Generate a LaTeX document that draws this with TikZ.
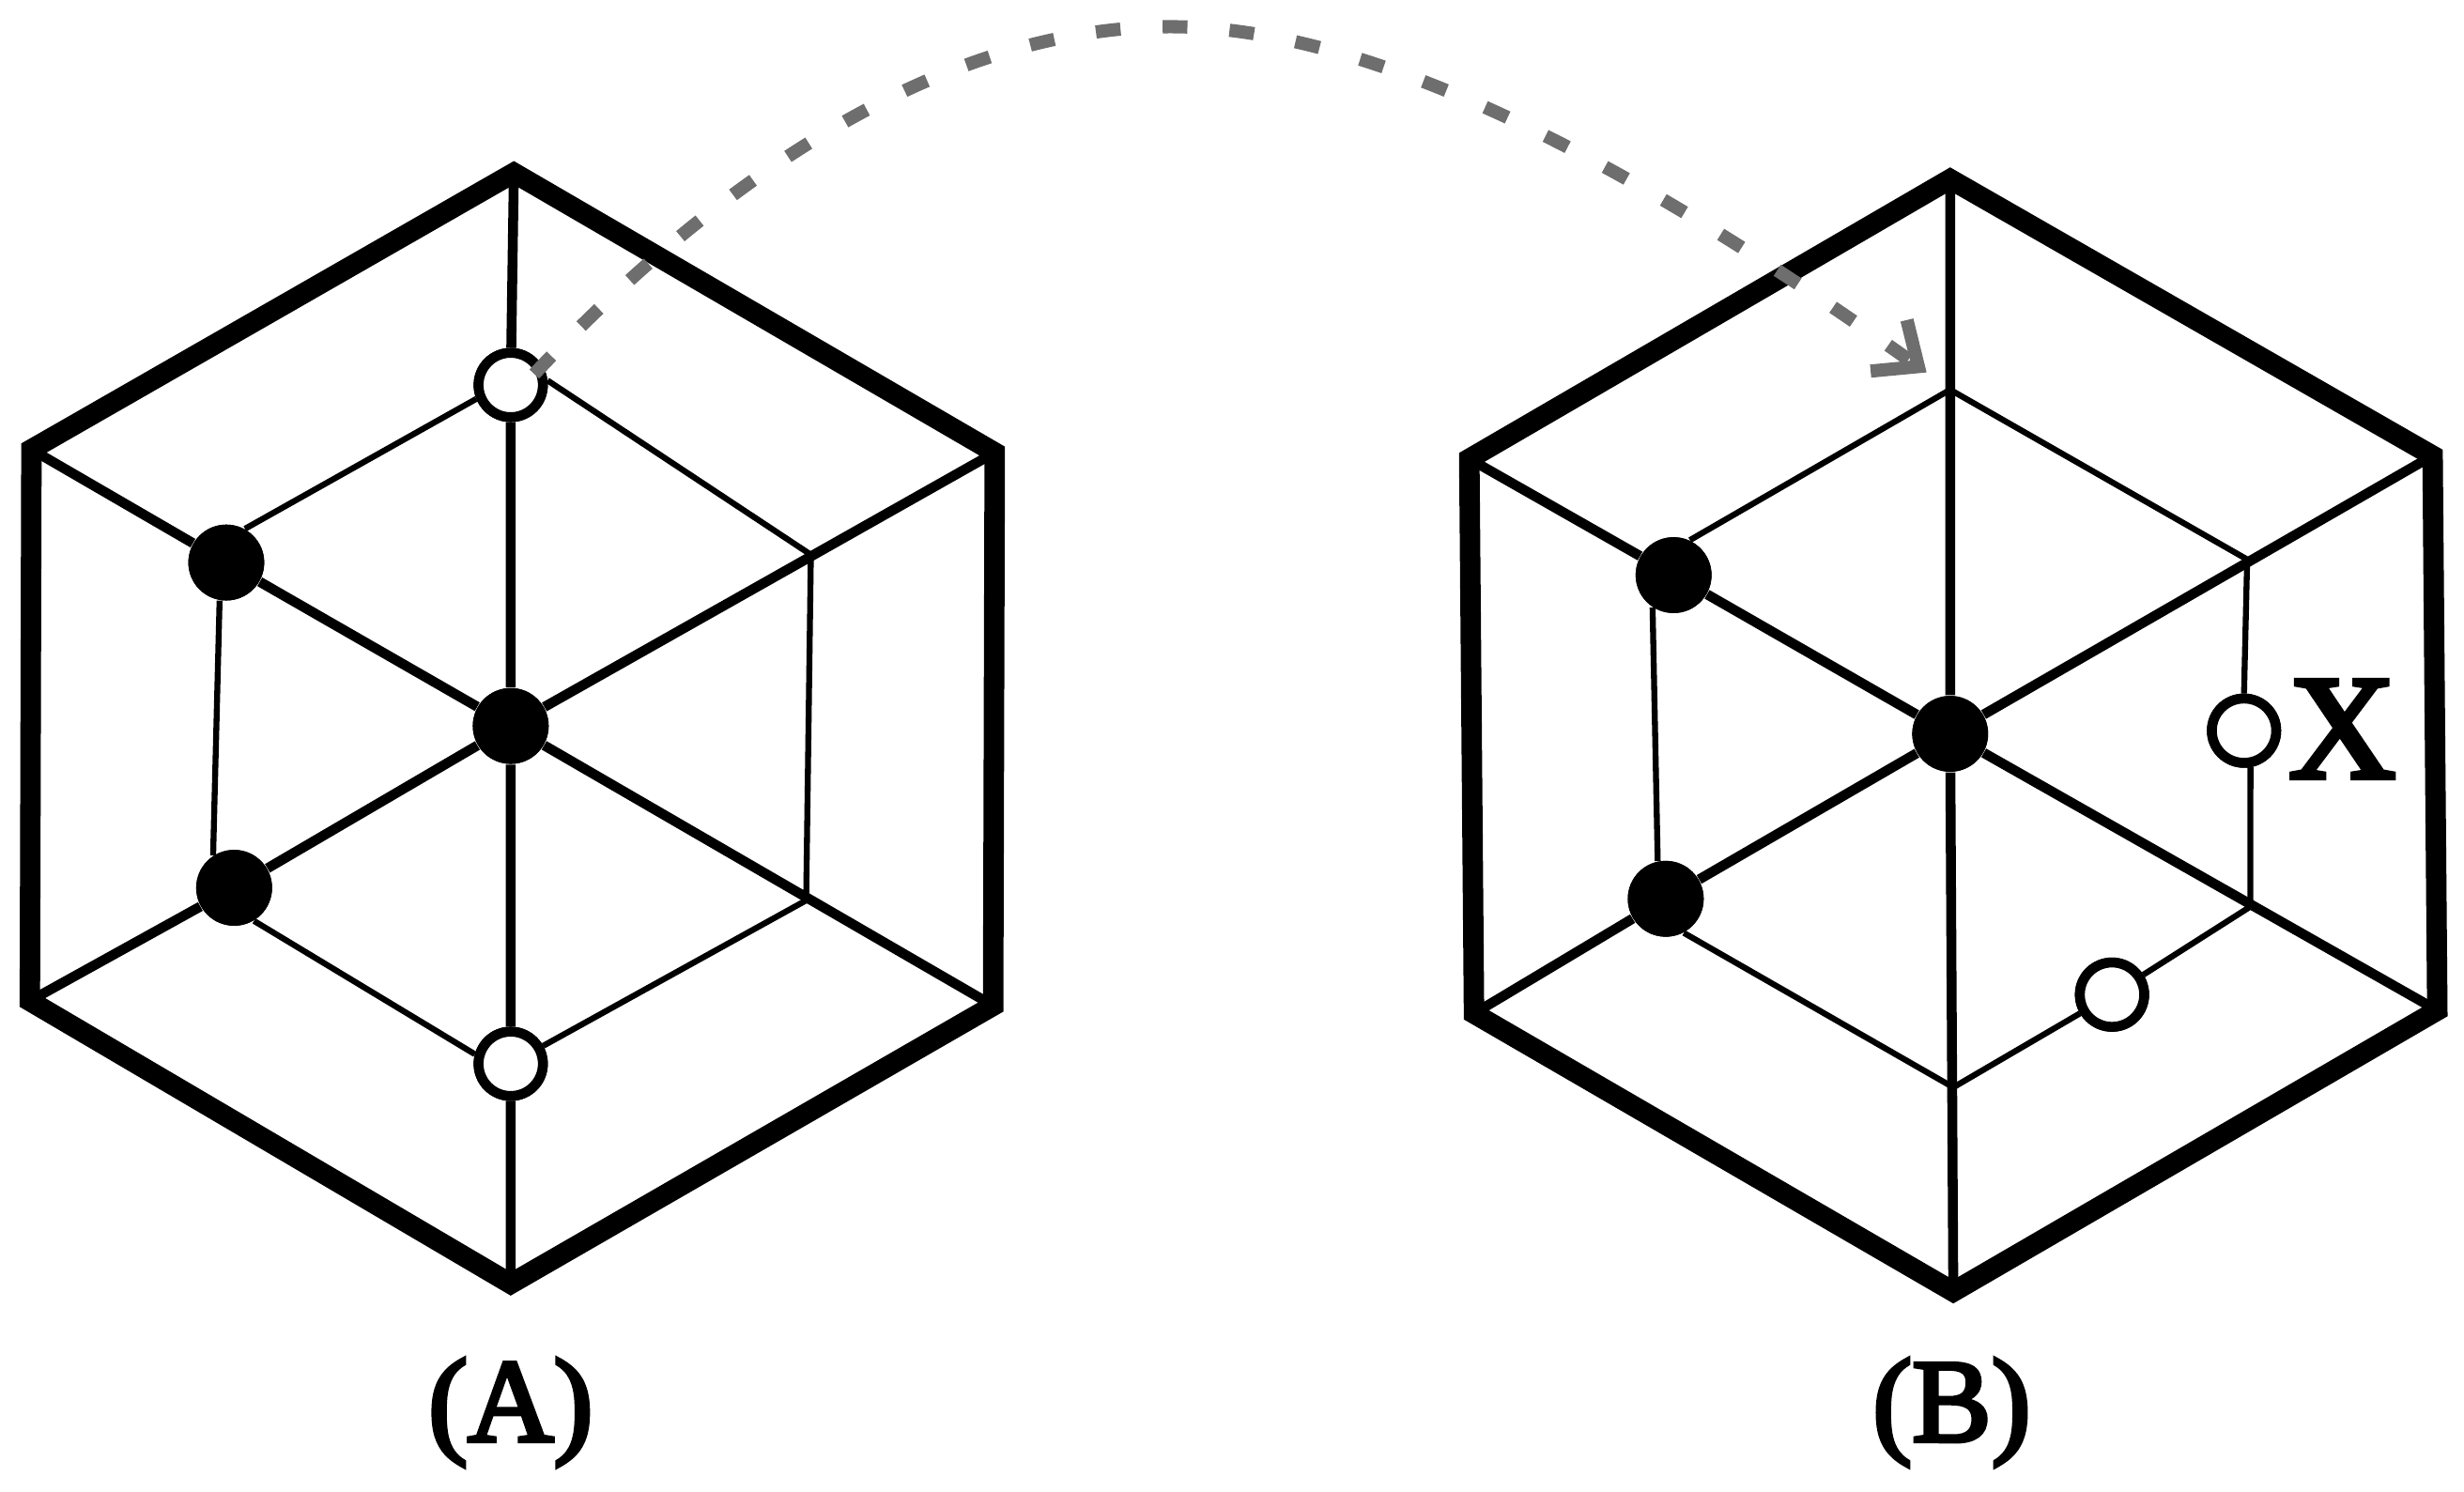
\documentclass[tikz,border=0pt]{standalone}
\usepackage{fontspec}
\setmainfont{Liberation Serif}
\newfontfamily\labelfont[FakeBold=3.5]{Liberation Serif}
\usetikzlibrary{arrows.meta}
\tikzset{
  hexline/.style={line width=6.2pt,line join=miter},
  midline/.style={line width=3pt},
  thinline/.style={line width=1.8pt},
  fullsite/.style={circle,fill=black,inner sep=0pt,minimum size=23pt},
  emptysite/.style={circle,draw=black,fill=white,line width=3pt,inner sep=0pt,minimum size=19.5pt},
  panellabel/.style={font=\fontsize{36}{36}\labelfont},
  movearrow/.style={draw=arrowgray,line width=4pt,dash pattern=on 7.5pt off 12.8pt,
    -{Straight Barb[length=11pt,width=19pt,line cap=butt,line join=miter]}}
}
\definecolor{arrowgray}{RGB}{110,110,110}
\begin{document}
\begin{tikzpicture}[x=0.016735cm,y=-0.016735cm]
\useasboundingbox (0,0) rectangle (1568,949.5);
\foreach \x/\y/\n in {327/110/atop,20/286/aul,633/288/aur,19/637/all,632/640/alr,325/817/abot,516/353/ar1,513/573/ar2,
  1241/114/btop,935/292/bul,1548/290/bur,938/645/bll,1551/643/blr,1243/822/bbot,1241/248/bt1,1430/356/br1,1432/577/br2,1243/692/bb1,340/238/arrowstart,1226/237/arrowend}{\coordinate (\n) at (\x,\y);}
\foreach \x/\y/\n in {325/245/ao1,325/677/ao2,1428/465/bo1,1344/633/bo2}{\node[emptysite] (\n) at (\x,\y) {};}
\foreach \x/\y/\n in {325/462/acen,144/358/af1,149/565/af2,1241/467/bcen,1065/366/bf1,1060/572/bf2}{\node[fullsite] (\n) at (\x,\y) {};}
\draw[thinline] (ao1.202) -- (af1.61) (ao1.7) -- (ar1) -- (ar2) -- (ao2) (ao2.165) -- (af2.-59) (af1.260) -- (af2.123);
\draw[thinline] (bt1) -- (bf1.65) (bt1) -- (br1) -- (bo1.north) (bo1.280) -- (br2) -- (bo2) -- (bb1) -- (bf2.-62) (bf1.237) -- (bf2.102);
\draw[midline] (atop) -- (ao1) -- (acen) -- (ao2) -- (abot) (aul) -- (af1) -- (acen) -- (alr) (all) -- (af2) -- (acen) -- (aur);
\draw[midline] (btop) -- (bcen) -- (bbot) (bul) -- (bf1) -- (bcen) -- (blr) (bll) -- (bf2) -- (bcen) -- (bur);
\draw[hexline] (atop) -- (aur) -- (alr) -- (abot) -- (all) -- (aul) -- cycle;
\draw[hexline] (btop) -- (bur) -- (blr) -- (bbot) -- (bll) -- (bul) -- cycle;
\foreach \n in {ao1,ao2,bo1,bo2}{\node[emptysite] at (\n) {};}
\foreach \n in {acen,af1,af2,bcen,bf1,bf2}{\node[fullsite] at (\n) {};}
\node[panellabel] (alabel) at (325,899) {(A)};
\node[panellabel] (blabel) at (1242,899) {(B)};
\node[font=\fontsize{45}{45}\labelfont,right=0pt] (xlabel) at (1449,464) {X};
\draw[movearrow] (arrowstart) .. controls (470,100) and (610,17) .. (745,17) .. controls (880,17) and (1050,112) .. (arrowend);
\end{tikzpicture}
\end{document}
